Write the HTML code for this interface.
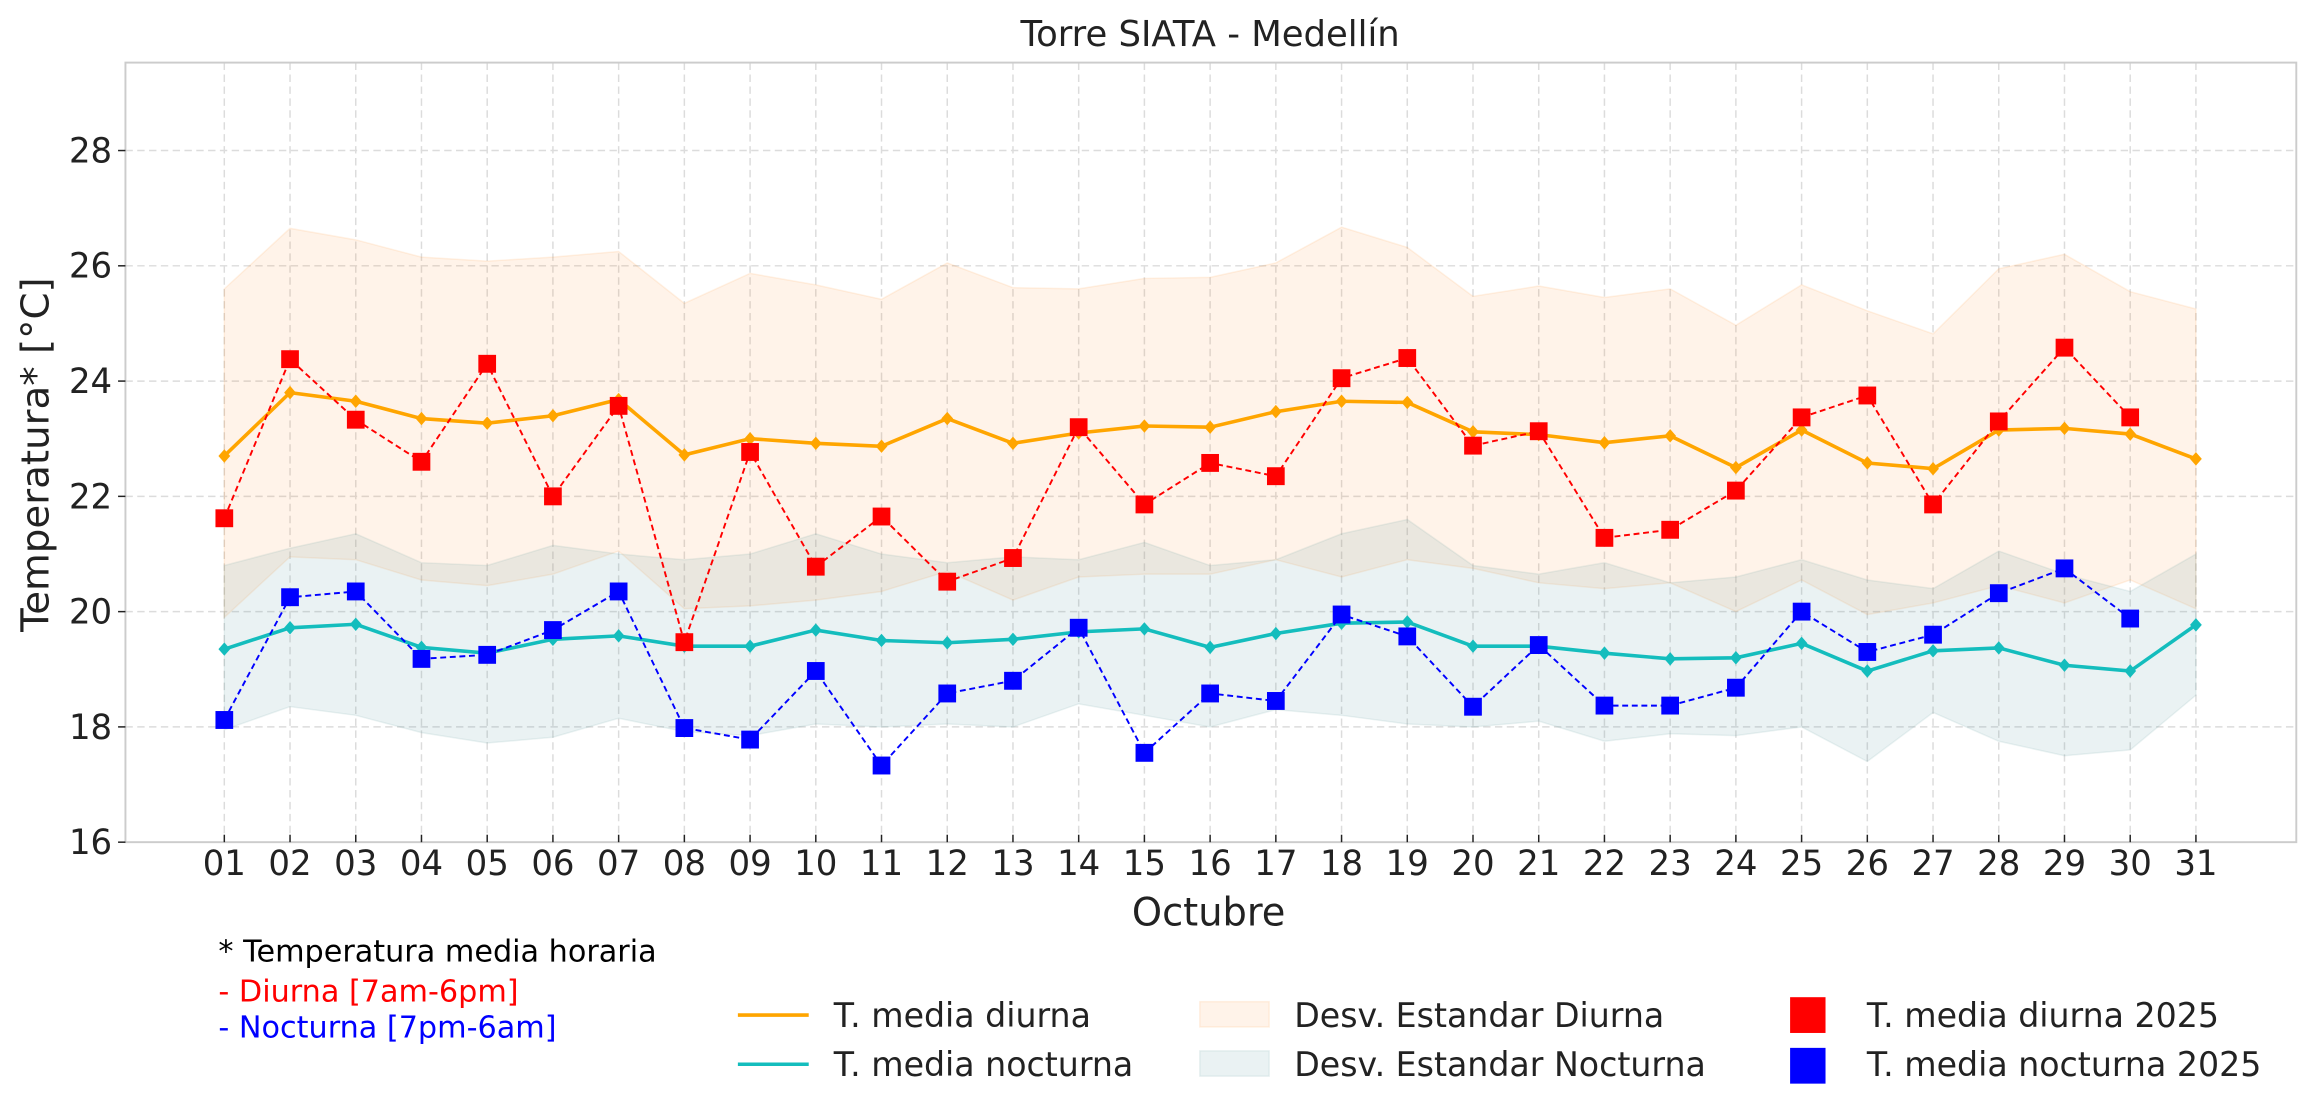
<!DOCTYPE html>
<html><head><meta charset="utf-8"><style>
html,body{margin:0;padding:0;background:#fff;}
svg{display:block;font-family:"DejaVu Sans","Liberation Sans",sans-serif;}
</style></head><body>
<svg id="s" width="2314" height="1106" viewBox="0 0 1568 742" preserveAspectRatio="none" xmlns="http://www.w3.org/2000/svg"></svg>
<script>
const S=document.getElementById('s');
const X=d=>152+(d-1)*44.533, Y=v=>565-(v-16)*38.667;
let h='';
const om=[22.7,23.8,23.65,23.35,23.27,23.4,23.68,22.72,23.0,22.92,22.87,23.35,22.92,23.1,23.22,23.2,23.47,23.65,23.63,23.12,23.07,22.93,23.05,22.5,23.15,22.58,22.48,23.15,23.18,23.08,22.65];
const ou=[25.6,26.65,26.45,26.15,26.08,26.15,26.25,25.35,25.87,25.67,25.42,26.05,25.62,25.6,25.78,25.8,26.05,26.67,26.32,25.47,25.65,25.45,25.6,24.97,25.67,25.22,24.82,25.95,26.2,25.55,25.25];
const ol=[19.9,20.95,20.9,20.55,20.45,20.65,21.05,20.05,20.1,20.2,20.35,20.7,20.2,20.6,20.65,20.65,20.9,20.6,20.9,20.75,20.5,20.4,20.5,20.0,20.55,19.95,20.15,20.45,20.15,20.55,20.05];
const cm=[19.35,19.72,19.78,19.38,19.28,19.52,19.58,19.4,19.4,19.68,19.5,19.46,19.52,19.65,19.7,19.38,19.62,19.8,19.82,19.4,19.4,19.28,19.18,19.2,19.45,18.97,19.32,19.37,19.07,18.97,19.77];
const cu=[20.8,21.1,21.35,20.85,20.8,21.15,21.0,20.9,21.0,21.35,21.0,20.85,20.95,20.9,21.2,20.8,20.9,21.35,21.6,20.8,20.65,20.85,20.5,20.6,20.9,20.55,20.4,21.05,20.65,20.35,21.0];
const cl=[17.95,18.35,18.2,17.9,17.72,17.82,18.15,17.92,17.85,18.05,18.0,18.05,18.0,18.4,18.2,18.0,18.3,18.2,18.05,18.0,18.1,17.75,17.88,17.85,18.0,17.4,18.25,17.75,17.5,17.6,18.55];
const rd=[21.62,24.38,23.33,22.6,24.3,22.0,23.57,19.47,22.77,20.78,21.65,20.52,20.93,23.2,21.86,22.58,22.35,24.05,24.4,22.88,23.13,21.28,21.42,22.1,23.37,23.75,21.86,23.3,24.58,23.37];
const bl=[18.12,20.25,20.35,19.18,19.25,19.68,20.35,17.98,17.78,18.97,17.33,18.58,18.8,19.72,17.55,18.58,18.45,19.95,19.57,18.35,19.42,18.37,18.37,18.68,20.0,19.3,19.6,20.32,20.75,19.88];
const pts=a=>a.map((v,i)=>X(i+1).toFixed(1)+','+Y(v).toFixed(1)).join(' ');
const band=(u,l)=>pts(u)+' '+l.map((v,i)=>[i,v]).reverse().map(([i,v])=>X(i+1).toFixed(1)+','+Y(v).toFixed(1)).join(' ');
for(let d=1;d<=31;d++) h+=`<line x1="${X(d)}" y1="42" x2="${X(d)}" y2="565" stroke="#dcdcdc" stroke-width="1" stroke-dasharray="5,3"/>`;
for(let v=18;v<=28;v+=2) h+=`<line x1="85" y1="${Y(v)}" x2="1556" y2="${Y(v)}" stroke="#dcdcdc" stroke-width="1" stroke-dasharray="5,3"/>`;
h+=`<polygon points="${band(ou,ol)}" fill="#ff7f0e" fill-opacity="0.09" stroke="#ff7f0e" stroke-opacity="0.1"/>`;
h+=`<polygon points="${band(cu,cl)}" fill="#5f9ea0" fill-opacity="0.13" stroke="#5f9ea0" stroke-opacity="0.12"/>`;
h+=`<polyline points="${pts(om)}" fill="none" stroke="#ffa500" stroke-width="2.4"/>`;
h+=`<polyline points="${pts(cm)}" fill="none" stroke="#14bdbd" stroke-width="2.4"/>`;
const dia=(a,c)=>a.map((v,i)=>{const x=X(i+1),y=Y(v);return `<polygon points="${x},${y-4.5} ${x+4},${y} ${x},${y+4.5} ${x-4},${y}" fill="${c}"/>`}).join('');
h+=dia(om,'#ffa500')+dia(cm,'#14bdbd');
h+=`<polyline points="${pts(rd)}" fill="none" stroke="#ff0000" stroke-width="1.3" stroke-dasharray="4,2.5"/>`;
h+=`<polyline points="${pts(bl)}" fill="none" stroke="#0000ff" stroke-width="1.3" stroke-dasharray="4,2.5"/>`;
const sq=(a,c)=>a.map((v,i)=>`<rect x="${X(i+1)-6}" y="${Y(v)-6}" width="12" height="12" fill="${c}"/>`).join('');
h+=sq(rd,'#ff0000')+sq(bl,'#0000ff');
h+=`<rect x="85" y="42" width="1471" height="523" fill="none" stroke="#cccccc" stroke-width="1.3"/>`;
for(let v=16;v<=28;v+=2){h+=`<line x1="80" y1="${Y(v)}" x2="85" y2="${Y(v)}" stroke="#222"/><text x="76" y="${Y(v)+8}" text-anchor="end" font-size="23" fill="#222">${v}</text>`;}
for(let d=1;d<=31;d++){h+=`<line x1="${X(d)}" y1="565" x2="${X(d)}" y2="560" stroke="#222"/><text x="${X(d)}" y="587" text-anchor="middle" font-size="23" fill="#222">${String(d).padStart(2,'0')}</text>`;}
h+=`<text x="819" y="621" text-anchor="middle" font-size="26" fill="#222">Octubre</text>`;
h+=`<text transform="translate(33,305) rotate(-90)" text-anchor="middle" font-size="26" fill="#222">Temperatura* [°C]</text>`;
h+=`<text x="820" y="31" text-anchor="middle" font-size="24" fill="#222">Torre SIATA - Medellín</text>`;
h+=`<text x="148" y="645" font-size="20.5" fill="#000">* Temperatura media horaria</text>`;
h+=`<text x="148" y="672" font-size="20.5" fill="#ff0000">- Diurna [7am-6pm]</text>`;
h+=`<text x="148" y="696" font-size="20.5" fill="#0000ff">- Nocturna [7pm-6am]</text>`;
h+=`<line x1="500" y1="681" x2="548" y2="681" stroke="#ffa500" stroke-width="2.4"/><text x="565" y="689" font-size="22.5" fill="#222">T. media diurna</text>`;
h+=`<line x1="500" y1="714" x2="548" y2="714" stroke="#14bdbd" stroke-width="2.4"/><text x="565" y="722" font-size="22.5" fill="#222">T. media nocturna</text>`;
h+=`<rect x="813" y="672" width="47" height="17" fill="#ff7f0e" fill-opacity="0.09" stroke="#ff7f0e" stroke-opacity="0.1"/><text x="877" y="689" font-size="22.5" fill="#222">Desv. Estandar Diurna</text>`;
h+=`<rect x="813" y="705" width="47" height="17" fill="#5f9ea0" fill-opacity="0.13" stroke="#5f9ea0" stroke-opacity="0.12"/><text x="877" y="722" font-size="22.5" fill="#222">Desv. Estandar Nocturna</text>`;
h+=`<rect x="1213" y="669" width="24" height="24" fill="#ff0000"/><text x="1265" y="689" font-size="22.5" fill="#222">T. media diurna 2025</text>`;
h+=`<rect x="1213" y="703" width="24" height="24" fill="#0000ff"/><text x="1265" y="722" font-size="22.5" fill="#222">T. media nocturna 2025</text>`;
S.innerHTML=h;
</script>
</body></html>
